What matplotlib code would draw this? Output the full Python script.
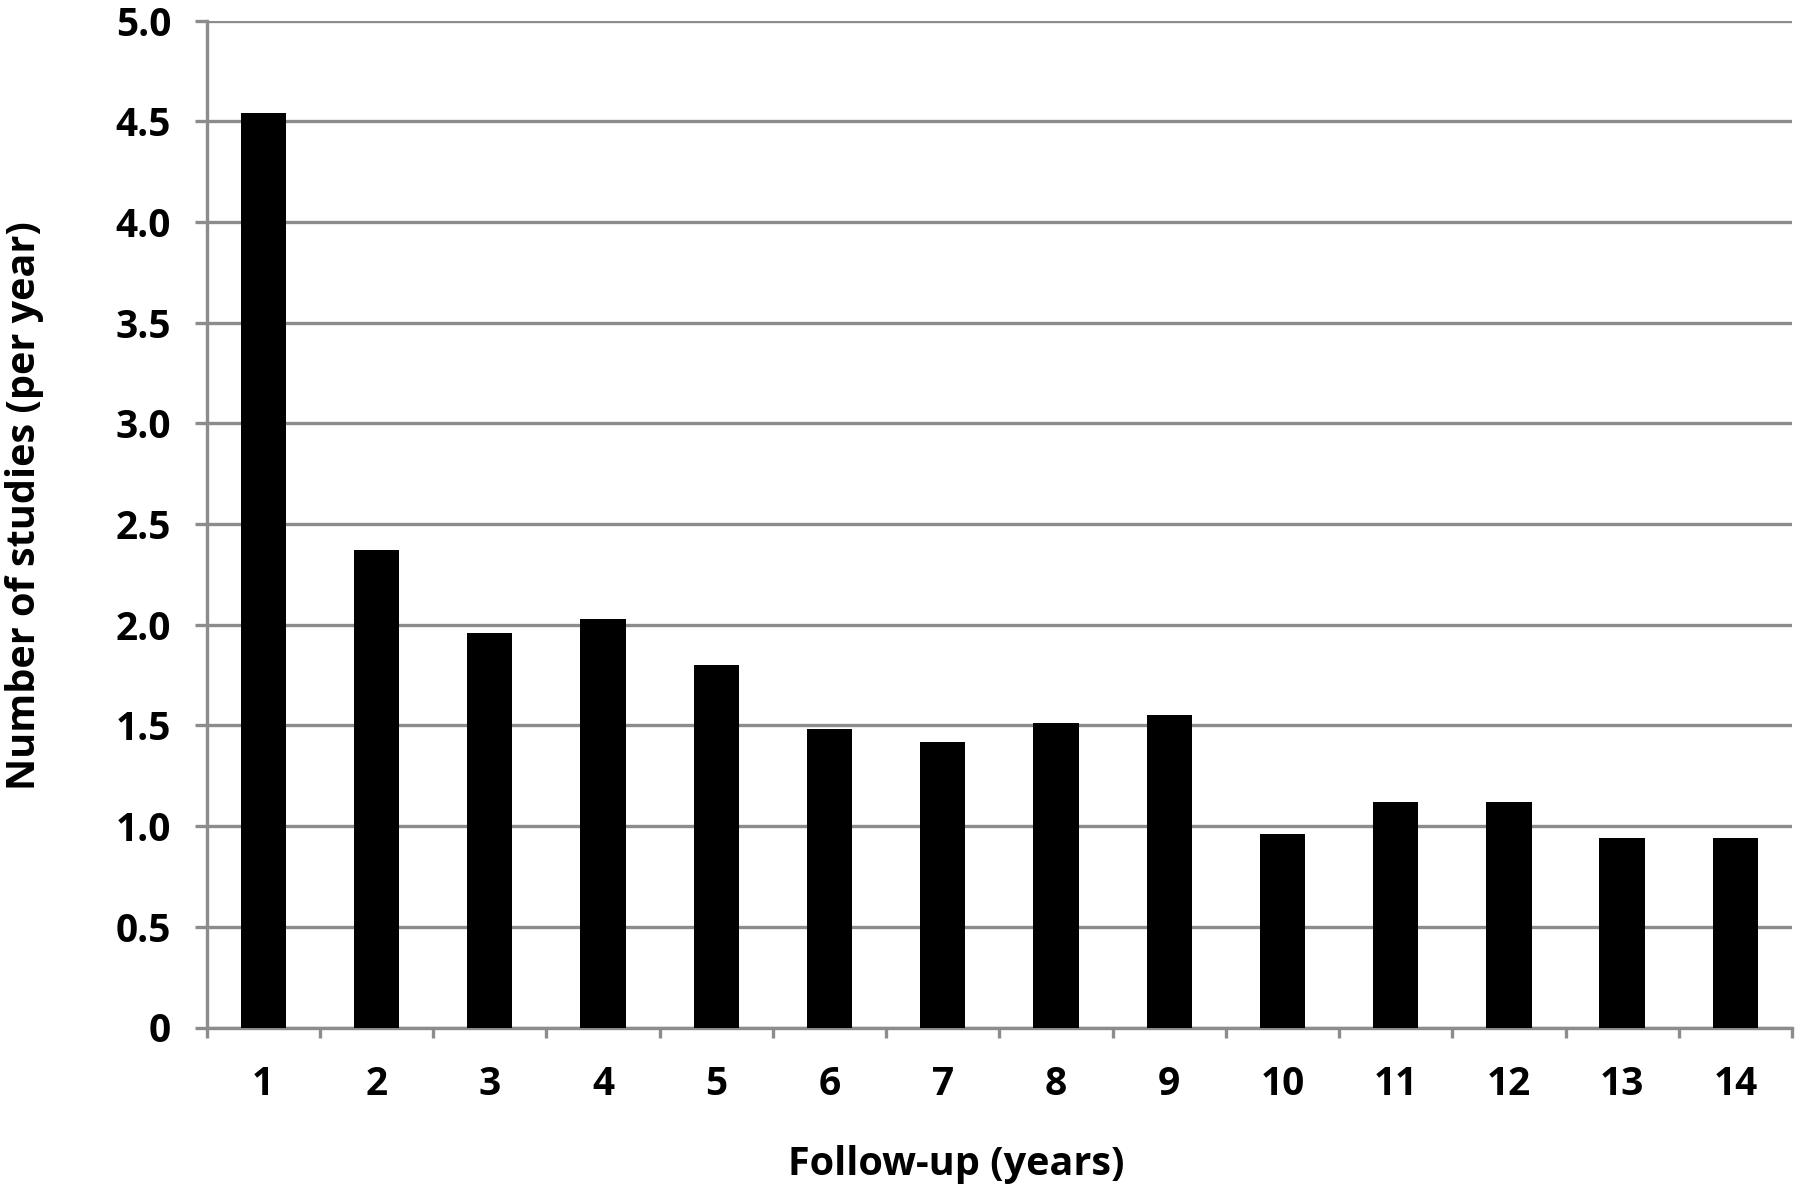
import matplotlib
matplotlib.use("Agg")
import matplotlib.pyplot as plt
import numpy as np

years = list(range(1, 15))
studies_per_year = [4.54, 2.37, 1.96, 2.03, 1.80, 1.48, 1.42, 1.51, 1.55, 0.96, 1.12, 1.12, 0.94, 0.94]
y_ticks = [0, 0.5, 1.0, 1.5, 2.0, 2.5, 3.0, 3.5, 4.0, 4.5, 5.0]
y_tick_labels = ["0", "0.5", "1.0", "1.5", "2.0", "2.5", "3.0", "3.5", "4.0", "4.5", "5.0"]
x_label = "Follow-up (years)"
y_label = "Number of studies (per year)"

plt.rcParams['font.family'] = ['Open Sans', 'DejaVu Sans']
plt.rcParams['font.weight'] = 'bold'

W, H = 1800, 1189
fig = plt.figure(figsize=(W / 100, H / 100), dpi=100)
left, right, top, bottom = 206.6, 1792, 20.5, 1027.5
ax = fig.add_axes([left / W, 1 - bottom / H, (right - left) / W, (bottom - top) / H])

grid_c = '#8c8c8c'
ax.bar(years, studies_per_year, width=0.40, color='black', zorder=3)
ax.set_xlim(0.5, 14.5)
ax.set_ylim(0, 5.0)

ax.set_yticks(y_ticks)
ax.set_yticklabels(y_tick_labels)
ax.yaxis.grid(True, color=grid_c, linewidth=2.4, zorder=0)
ax.set_axisbelow(True)

ax.set_xticks(years)
ax.set_xticklabels([str(y) for y in years])
ax.set_xticks(np.arange(0.5, 15.0, 1.0), minor=True)
ax.tick_params(axis='x', which='major', length=0, pad=27, labelsize=28)
ax.tick_params(axis='x', which='minor', length=7.5, width=2.4, color=grid_c, direction='out')
ax.tick_params(axis='y', which='major', length=8.6, width=2.4, color=grid_c, pad=17, labelsize=28)

for s in ['top', 'right']:
    ax.spines[s].set_visible(False)
for s in ['left', 'bottom']:
    ax.spines[s].set_color(grid_c)
    ax.spines[s].set_linewidth(2.4)

for lab in ax.get_xticklabels() + ax.get_yticklabels():
    lab.set_fontweight('bold')

fig.text(956 / W, 1 - 1165 / H, x_label, ha='center', va='center', fontsize=28.5, fontweight='bold')
fig.text(25 / W, 1 - 506 / H, y_label, ha='center', va='center', rotation=90, fontsize=28.5, fontweight='bold')

fig.savefig('out.png', dpi=100)
